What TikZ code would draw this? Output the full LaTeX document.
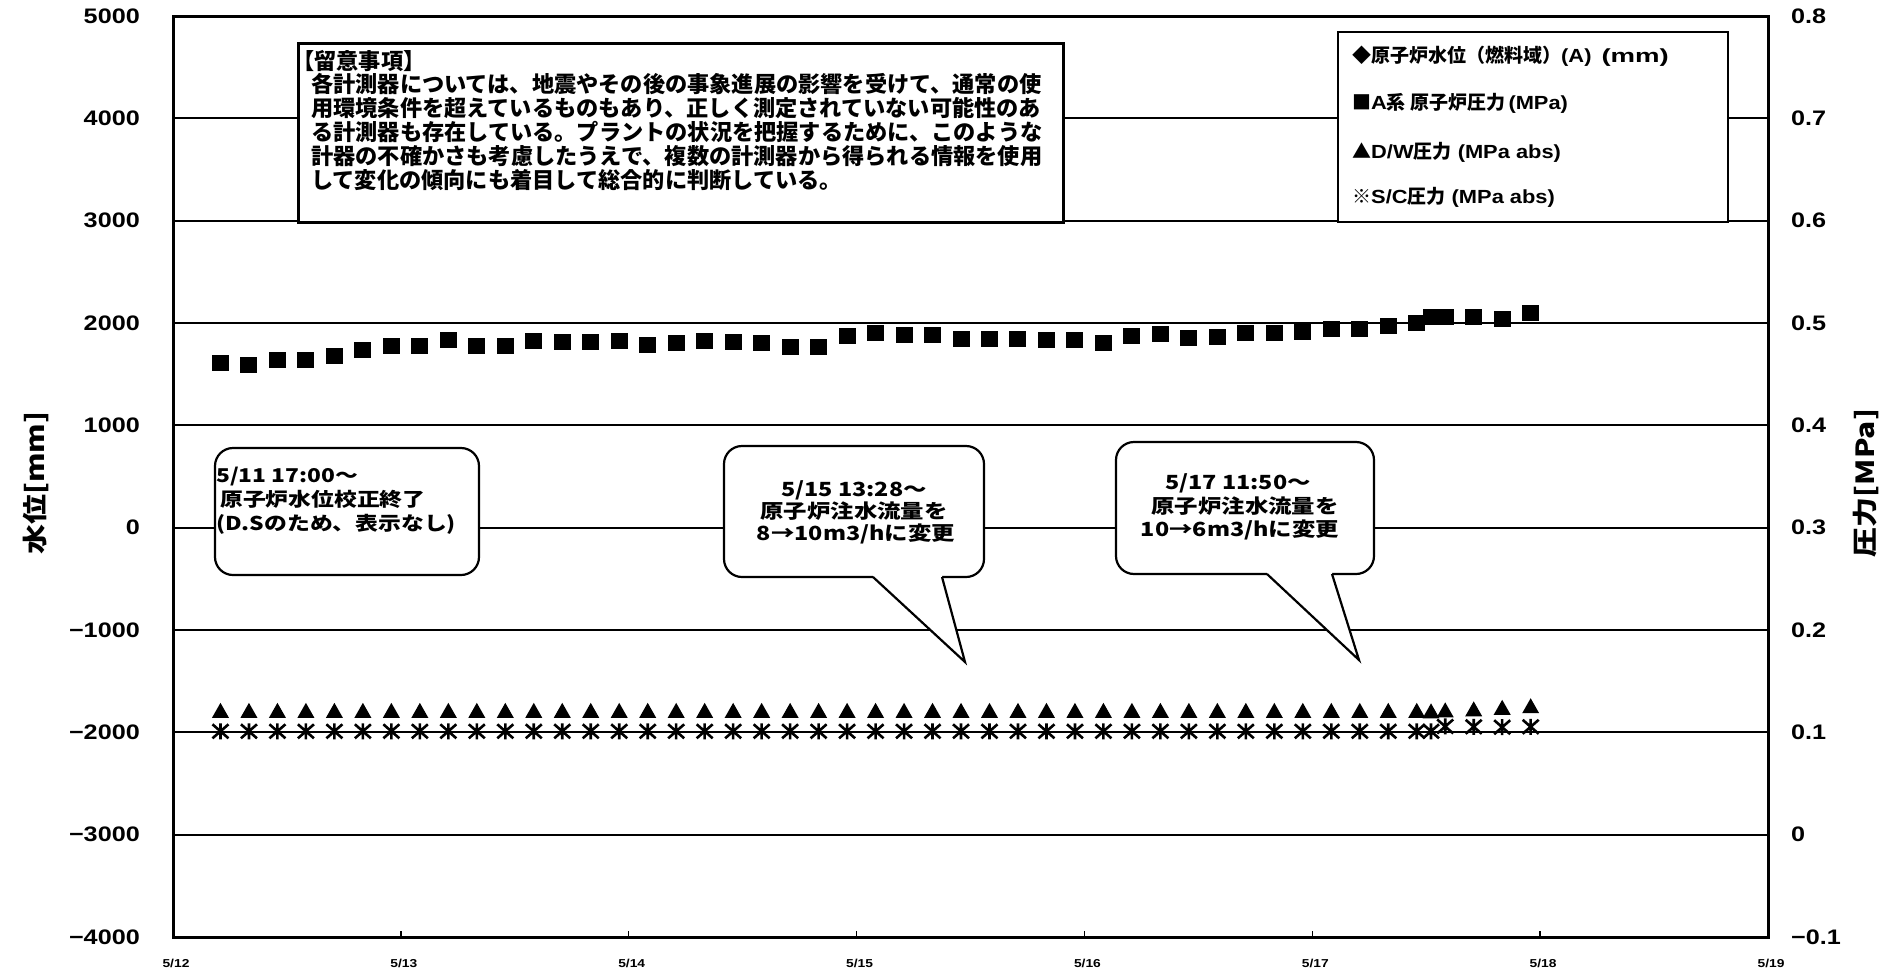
\documentclass[tikz,border=0pt]{standalone}
\usepackage{fontspec}
\setmainfont{Liberation Sans}
\newfontfamily\jp{Noto Sans CJK JP}
\newfontfamily\jpw{Noto Sans CJK JP}[FakeStretch=1.2]
\newfontfamily\ar{Liberation Sans}[FakeStretch=1.2]
\newfontfamily\arl{Liberation Sans}[FakeStretch=1.15]
\newfontfamily\arx{Liberation Sans}[FakeStretch=1.45]
\newcommand\La[1]{{\arl #1}}
\tikzset{
  sqmark/.pic={\fill[x=1bp,y=1bp] (-8.5,-8) rectangle (8.5,8);},
  trimark/.pic={\fill[x=1bp,y=1bp] (-8.5,-7) -- (8.5,-7) -- (0,8) -- cycle;},
  astmark/.pic={\draw[x=1bp,y=1bp,line width=2.6bp] (-8,-7) -- (8,7) (-8,7) -- (8,-7) (0,-8) -- (0,8);},
}
\begin{document}
\begin{tikzpicture}[x=1bp,y=-1bp,
  gridl/.style={line width=2bp},
  framel/.style={line width=3bp},
  ylab/.style={font=\ar\bfseries\fontsize{21bp}{24bp}\selectfont, inner sep=0},
  dlab/.style={font=\ar\bfseries\fontsize{11.5bp}{14bp}\selectfont, inner sep=0},
  ntxt/.style={font=\jp\bfseries\fontsize{22.2bp}{24bp}\selectfont, inner sep=0, anchor=base west},
  ltxt/.style={font=\jp\bfseries\fontsize{19bp}{22bp}\selectfont, inner sep=0, anchor=base west},
  ctxtA/.style={font=\jpw\bfseries\fontsize{19bp}{22bp}\selectfont, inner sep=0, anchor=base west},
  ctxtB/.style={font=\jpw\bfseries\fontsize{19.5bp}{22bp}\selectfont, inner sep=0, anchor=base},
  tbox/.style={fill=white, draw=black, line width=2.5bp},
  bubble/.style={fill=white, draw=black, line width=2.2bp, rounded corners=18bp},
  tailline/.style={draw=black, line width=2.2bp, line join=miter},
  atitle/.style={font=\jpw\bfseries\fontsize{25bp}{28bp}\selectfont, inner sep=0, rotate=90},
]
\useasboundingbox (0,0) rectangle (1894,977);
\fill[white] (0,0) rectangle (1894,977);

% grid lines
\foreach \k in {1,...,8}
  \draw[gridl] (173,{16+102.333*\k}) -- (1768,{16+102.333*\k});
% frame and ticks
\draw[framel] (173,16) rectangle (1768,937);
\foreach \k in {0,...,7}
  \draw[line width=1.5bp] ({173+227.857*\k},937) -- ++(0,-6);

% axis labels
\foreach \v [count=\k from 0] in {5000,4000,3000,2000,1000,0,−1000,−2000,−3000,−4000}
  \node[ylab, anchor=east] (yl\k) at (140,{16+102.333*\k}) {\v};
\foreach \v [count=\k from 0] in {0.8,0.7,0.6,0.5,0.4,0.3,0.2,0.1,0,−0.1}
  \node[ylab, anchor=west] (yr\k) at (1791,{16+102.333*\k}) {\v};
\foreach \d [count=\k from 0] in {12,13,14,15,16,17,18,19}
  \node[dlab] (dt\k) at ({176+227.857*\k},963) {5/\d};
\node[atitle] (ytl) at (36,483) {水位[mm]};
\node[atitle] (ytr) at (1866,483) {圧力[MPa]};

% note box
\draw[tbox, line width=3bp] (298,43) rectangle (1063,222);
\node[ntxt] (note0) at (292,69) {【留意事項】};
\foreach \s [count=\k] in {各計測器については、地震やその後の事象進展の影響を受けて、通常の使,
  用環境条件を超えているものもあり、正しく測定されていない可能性のあ,
  る計測器も存在している。プラントの状況を把握するために、このような,
  計器の不確かさも考慮したうえで、複数の計測器から得られる情報を使用,
  して変化の傾向にも着目して総合的に判断している。}
  \node[ntxt] (note\k) at (311,{69+23.8*\k}) {\s};

% legend box
\draw[tbox, line width=2.2bp] (1338,32) rectangle (1728,222);
\node[ltxt] (lg1) at (1352,62) {◆原子炉水位（燃料域）\La{(A)\hspace{10bp}}{\arx (mm)}};
\node[ltxt] (lg2) at (1352,109) {■\La{A}系 原子炉圧力\La{\,(MPa)}};
\node[ltxt] (lg3) at (1352,158) {▲\La{D/W}圧力\La{ (MPa abs)}};
\node[ltxt] (lg4) at (1352,203) {※\La{S/C}圧力\La{ (MPa abs)}};

% callouts
\draw[bubble] (215,448) rectangle (479,575);
\draw[bubble] (724,446) rectangle (984,577);
\fill[white] (873,574.5) -- (942,574.5) -- (942,577) -- (965,662) -- (873,577) -- cycle;
\draw[tailline] (873,577) -- (965,662) -- (942,577);
\draw[bubble] (1116,442) rectangle (1374,574);
\fill[white] (1267,571.5) -- (1332,571.5) -- (1332,574) -- (1359,660) -- (1267,574) -- cycle;
\draw[tailline] (1267,574) -- (1359,660) -- (1332,574);

\node[ctxtA] (c1a) at (216,482) {5/11 17:00～};
\node[ctxtA] (c1b) at (220,506) {原子炉水位校正終了};
\node[ctxtA] (c1c) at (216,530) {(D.Sのため、表示なし)};
\node[ctxtB] (c2a) at (854,496) {5/15 13:28～};
\node[ctxtB] (c2b) at (854,518) {原子炉注水流量を};
\node[ctxtB] (c2c) at (856,540) {8→10m3/hに変更};
\node[ctxtB] (c3a) at (1238,489) {5/17 11:50～};
\node[ctxtB] (c3b) at (1245,513) {原子炉注水流量を};
\node[ctxtB] (c3c) at (1240,536) {10→6m3/hに変更};

% data: x in days from 5/12 00:00, y in mm (pressure p -> (p-0.3)*10000)
\begin{scope}[shift={(173,527.667)}, x=227.857bp, y=0.102333bp]
  \foreach \p [count=\i] in {0.461,0.459,0.464,0.464,0.468,0.474,0.478,0.478,0.483,0.478,
      0.478,0.482,0.481,0.481,0.482,0.479,0.480,0.482,0.481,0.480,
      0.477,0.477,0.487,0.490,0.488,0.488,0.484,0.484,0.484,0.483,
      0.483,0.480,0.487,0.489,0.485,0.486,0.490,0.490,0.491,0.494,
      0.494,0.497,0.500,0.506,0.506,0.504,0.510}
    \pic at ({(5+3*(\i-1))/24},{(\p-0.3)*10000}) {sqmark};
  \pic at (5.521,2060) {sqmark};
  \foreach \i in {1,...,43} {
    \pic at ({(5+3*(\i-1))/24},-1790) {trimark};
    \pic at ({(5+3*(\i-1))/24},-1990) {astmark};
  }
  \foreach \i/\a/\b in {44/0.1215/0.1057,45/0.1225/0.1054,46/0.124/0.105,47/0.1255/0.1054} {
    \pic at ({(5+3*(\i-1))/24},{(\a-0.3)*10000}) {trimark};
    \pic at ({(5+3*(\i-1))/24},{(\b-0.3)*10000}) {astmark};
  }
  \pic at (5.521,-1795) {trimark};
  \pic at (5.521,-1990) {astmark};
\end{scope}
\end{tikzpicture}
\end{document}
